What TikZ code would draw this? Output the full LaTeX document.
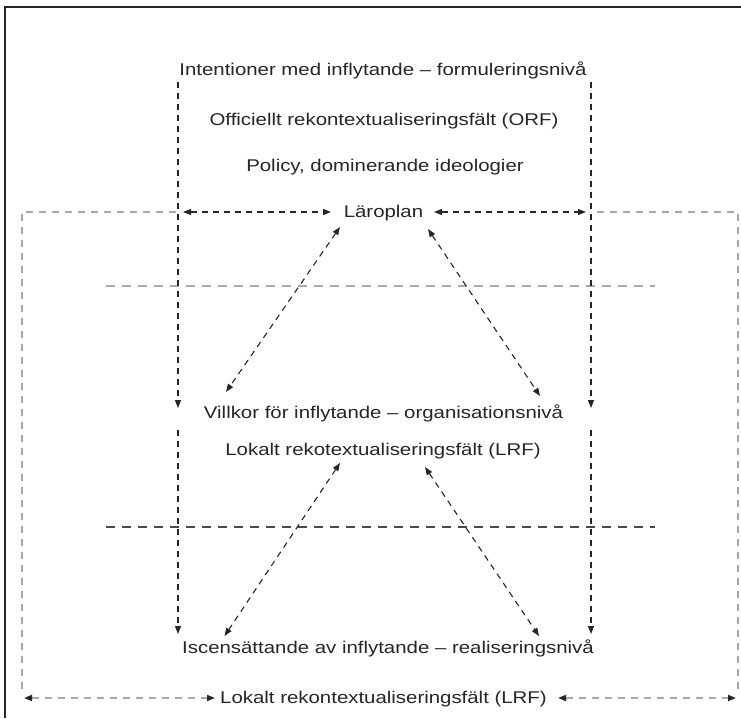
\documentclass[tikz,border=0pt]{standalone}
\usepackage{fontspec}
\setmainfont{Liberation Sans}[FakeStretch=1.2]
\usetikzlibrary{arrows.meta}
\definecolor{ink}{HTML}{262626}
\definecolor{lgrey}{HTML}{A8A8A8}
\tikzset{
  lbl/.style={font=\fontsize{17}{20}\selectfont, text=ink, inner sep=0pt, text height=12.5pt, text depth=3.5pt},
  dline/.style={draw=ink, line width=1.1pt, dash pattern=on 6pt off 5pt},
  gline/.style={draw=lgrey, line width=1.8pt, dash pattern=on 7pt off 6pt},
  sepg/.style={draw=lgrey, line width=1.9pt, dash pattern=on 9pt off 7pt},
  sepd/.style={draw=ink!85, line width=1.3pt, dash pattern=on 9pt off 7pt},
  tipk/.tip={Triangle[length=8pt,width=6pt,color=ink]},
  arr/.style={-tipk},
  darr/.style={tipk-tipk},
}
\begin{document}
\begin{tikzpicture}[x=1pt,y=-1pt]
\useasboundingbox (0,0) rectangle (741,718);
\fill[white] (0,0) rectangle (741,718);
% frame (left and top edges visible)
\coordinate (fbl) at (5,718);
\coordinate (ftl) at (5,7);
\coordinate (ftr) at (741,7);
\draw[ink, line width=1.5pt] (fbl) -- (ftl) -- (ftr);

% texts
\node[lbl] (int) at (383,71) {Intentioner med inflytande – formuleringsnivå};
\node[lbl] (orf) at (384,121) {Officiellt rekontextualiseringsfält (ORF)};
\node[lbl] (pol) at (385,167) {Policy, dominerande ideologier};
\node[lbl] (lar) at (383.5,213) {Läroplan};
\node[lbl] (vil) at (383.5,414) {Villkor för inflytande – organisationsnivå};
\node[lbl] (lrf1) at (383,451) {Lokalt rekotextualiseringsfält (LRF)};
\node[lbl] (isc) at (388,649) {Iscensättande av inflytande – realiseringsnivå};
\node[lbl] (lrf2) at (383.5,699) {Lokalt rekontextualiseringsfält (LRF)};

% named points
\coordinate (vl1a) at (178,82);  \coordinate (vl1b) at (178,408);
\coordinate (vl2a) at (178,430); \coordinate (vl2b) at (178,634);
\coordinate (vr1a) at (591,82);  \coordinate (vr1b) at (591,408);
\coordinate (vr2a) at (591,430); \coordinate (vr2b) at (591,634);
\coordinate (hl1) at (183,212); \coordinate (hl2) at (331,212);
\coordinate (hr1) at (434,212); \coordinate (hr2) at (586,212);
\coordinate (gl0) at (176,212); \coordinate (gl1) at (22,212); \coordinate (gl2) at (22,693);
\coordinate (gr0) at (597,212); \coordinate (gr1) at (738,212); \coordinate (gr2) at (738,693);
\coordinate (bl1) at (24,698); \coordinate (bl2) at (215,698);
\coordinate (br1) at (558,698); \coordinate (br2) at (736,698);
\coordinate (s1a) at (106,286); \coordinate (s1b) at (655,286);
\coordinate (s2a) at (106,527); \coordinate (s2b) at (655,527);
\coordinate (d1a) at (340,227); \coordinate (d1b) at (226,392);
\coordinate (d2a) at (428,229); \coordinate (d2b) at (540,396);
\coordinate (d3a) at (340,463); \coordinate (d3b) at (224.5,636);
\coordinate (d4a) at (425,467); \coordinate (d4b) at (539,636);

% separators
\draw[sepg] (s1a) -- (s1b);
\draw[sepd] (s2a) -- (s2b);

% outer grey loop
\draw[gline] (gl0) -- (gl1) -- (gl2);
\draw[gline] (gr0) -- (gr1) -- (gr2);
\draw[gline, darr] (bl1) -- (bl2);
\draw[gline, darr] (br1) -- (br2);

% vertical dashed arrows
\draw[dline, arr] (vl1a) -- (vl1b);
\draw[dline, arr] (vl2a) -- (vl2b);
\draw[dline, arr] (vr1a) -- (vr1b);
\draw[dline, arr] (vr2a) -- (vr2b);

% horizontal arrows at Läroplan
\draw[dline, darr] (hl1) -- (hl2);
\draw[dline, darr] (hr1) -- (hr2);

% diagonal arrows
\draw[dline, darr] (d1a) -- (d1b);
\draw[dline, darr] (d2a) -- (d2b);
\draw[dline, darr] (d3a) -- (d3b);
\draw[dline, darr] (d4a) -- (d4b);
\end{tikzpicture}
\end{document}
